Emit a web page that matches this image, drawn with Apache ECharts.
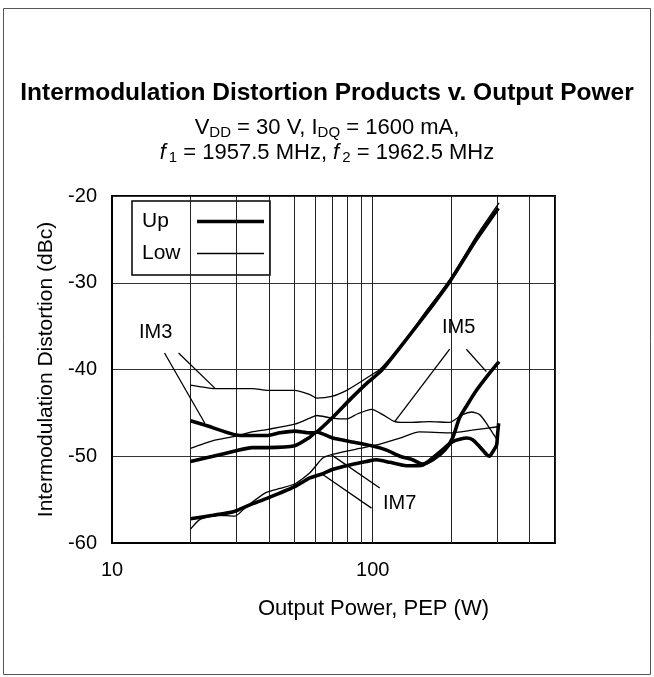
<!DOCTYPE html>
<html><head><meta charset="utf-8">
<script src="https://cdn.jsdelivr.net/npm/echarts@6/dist/echarts.min.js"></script>
<style>html,body{margin:0;padding:0;background:#fff}#c{width:654px;height:677px}</style>
</head><body><div id="c"></div>
<script>
// ---- data (x = Output Power PEP in W, y = IMD in dBc) ----
const im3Up = [[20,-45.9],[22.7,-46.4],[30.9,-47.6],[39.6,-47.6],[44.1,-47.3],[50.2,-47.1],[57.4,-47.3],[61,-47.2],[70.3,-45.5],[81.6,-43.5],[94.8,-41.6],[108.2,-40.1],[124.7,-37.8],[160,-33.6],[197,-29.9],[250,-25.0],[303,-21.4]];
const im3Low = [[20,-41.8],[24.8,-42.2],[29.6,-42.2],[34.7,-42.2],[39.3,-42.4],[50.2,-42.4],[57.4,-42.9],[61,-43.3],[69.6,-43.1],[79.5,-42.4],[89.1,-41.5],[99.1,-40.6],[106.4,-40.0],[126.9,-37.4],[160,-33.3],[197,-29.7],[250,-24.6],[305,-20.8]];
const im5Up = [[20,-50.6],[24.4,-50.0],[29.6,-49.4],[34.4,-49.0],[39.6,-49.0],[50.2,-48.8],[57.4,-47.8],[61,-47.2],[70.3,-47.9],[81.6,-48.3],[99.1,-48.8],[113,-49.3],[127,-50.0],[142,-50.4],[155,-50.9],[170,-50.4],[189,-49.3],[203,-47.8],[215,-45.6],[229,-44.2],[250,-42.4],[281,-40.4],[305,-39.1]];
const im5Low = [[20,-49.1],[24.4,-48.2],[29.6,-47.7],[34.4,-47.2],[39.6,-46.9],[50.2,-46.3],[57.4,-45.6],[61,-45.3],[69.6,-45.6],[79.5,-45.7],[87.6,-45.1],[99.1,-44.6],[109.2,-45.2],[121.4,-46.0],[138.7,-46.1],[165,-46.0],[197,-46.1],[221,-45.2],[239.5,-44.9],[257,-45.2],[273,-46.2],[288,-47.3],[300,-48.1]];
const im7Up = [[20,-57.2],[24.4,-56.8],[29.2,-56.4],[33.8,-55.6],[39.7,-54.8],[50.2,-53.5],[57.4,-52.5],[64.5,-52.0],[70.4,-51.5],[81.6,-51.0],[94.6,-50.6],[103.3,-50.4],[116.2,-50.7],[134.7,-51.1],[155.8,-51.0],[169.8,-50.2],[189.2,-49.0],[203,-48.3],[229,-47.9],[241.6,-48.1],[257,-48.9],[273.4,-49.8],[280.6,-50.0],[288.4,-49.5],[298.6,-48.7],[301,-47.5],[304,-46.2]];
const im7Low = [[20,-58.4],[21.7,-57.3],[25.2,-56.8],[29.6,-56.9],[32.8,-55.8],[38.9,-54.2],[44.1,-53.7],[50.2,-53.2],[57.4,-51.9],[64.3,-50.2],[69.6,-49.8],[89.1,-49.1],[103.6,-48.7],[127,-47.9],[151,-47.2],[197,-47.3],[240,-47.0],[301,-46.6]];

const xMin = 10, xMax = 500;
const yMin = -60, yMax = -20, yStep = 10;
const xLabelTicks = [10, 100];
const minorGridX = [20,30,40,50,60,70,80,90,200,300,400];

// callout labels and leader lines (data coordinates)
const calloutLabels = [
  {text:'IM3', at:[14.7,-35.7]},
  {text:'IM5', at:[213.6,-35.15]},
  {text:'IM7', at:[126.9,-55.5]}
];
const calloutLines = [
  [[15.9,-38.1],[22.7,-46.2]],
  [[18.0,-38.1],[24.8,-42.15]],
  [[197.3,-37.66],[121.4,-46.0]],
  [[228.6,-37.66],[272.7,-40.24]],
  [[69.5,-49.84],[106.4,-53.67]],
  [[64.5,-52.14],[98.9,-55.98]]
];

const FONT = "'Liberation Sans', Arial, Helvetica, sans-serif";
const THICK = 3.6, THIN = 1.3;

function lineSeries(name, data, w) {
  return {
    name: name, type: 'line', data: data, symbol: 'none', smooth: 0.2,
    lineStyle: {color: '#000', width: w}, silent: true, z: 5
  };
}

const chart = echarts.init(document.getElementById('c'), null, {renderer: 'canvas'});
const option = {
  backgroundColor: '#fff',
  animation: false,
  textStyle: {fontFamily: FONT, color: '#000'},
  title: [
    {text: 'Intermodulation Distortion Products v. Output Power', left: 'center', top: 76,
     textStyle: {fontSize: 24.5, fontWeight: 'bold', color: '#000', fontFamily: FONT}},
    {text: '{n|V}{s|DD}{n| = 30 V, I}{s|DQ}{n| = 1600 mA,}\n{i|f}{s|1}{n| = 1957.5 MHz, }{i|f}{s|2}{n| = 1962.5 MHz}',
     left: 'center', top: 110,
     textStyle: {fontSize: 22, fontWeight: 'normal', color: '#000', fontFamily: FONT,
       rich: {
         n: {fontSize: 22, fontWeight: 'normal', lineHeight: 25, color: '#000', fontFamily: FONT},
         i: {fontSize: 22, fontWeight: 'normal', lineHeight: 25, fontStyle: 'italic', color: '#000', fontFamily: FONT, padding: [0, 3, 0, 0]},
         s: {fontSize: 15, fontWeight: 'normal', lineHeight: 16, verticalAlign: 'bottom', color: '#000', fontFamily: FONT}
       }}}
  ],
  legend: {
    left: 132, top: 201, orient: 'vertical', align: 'right',
    padding: [10, 6, 11, 10], itemGap: 11, itemWidth: 67, itemHeight: 20,
    backgroundColor: '#fff', borderColor: '#000', borderWidth: 1.5, borderRadius: 0,
    selectedMode: false,
    formatter: '{a|{name}}',
    textStyle: {fontSize: 21, color: '#000', fontFamily: FONT,
      rich: {a: {fontSize: 21, width: 50, align: 'left', color: '#000', fontFamily: FONT}}},
    data: [
      {name: 'Up', icon: 'path://M0,0H67V3.6H0Z', itemStyle: {color: '#000'}},
      {name: 'Low', icon: 'path://M0,0H67V1.3H0Z', itemStyle: {color: '#000'}}
    ]
  },
  grid: {left: 112, right: 99, top: 196, bottom: 134, show: true, borderColor: '#000', borderWidth: 2, backgroundColor: 'transparent'},
  xAxis: {
    type: 'log', logBase: 10, min: xMin, max: xMax,
    name: 'Output Power, PEP (W)', nameLocation: 'middle', nameGap: 55,
    nameTextStyle: {fontSize: 22, color: '#000', fontFamily: FONT, padding: [0, 0, 0, 80]},
    axisLine: {show: true, lineStyle: {color: '#000', width: 2}},
    axisTick: {show: false},
    axisLabel: {fontSize: 20, color: '#000', margin: 17, fontFamily: FONT, showMaxLabel: false,
      formatter: function (v) { const r = Math.round(v); return xLabelTicks.indexOf(r) >= 0 ? String(r) : ''; }},
    splitLine: {show: true, lineStyle: {color: '#222', width: 1}}
  },
  yAxis: {
    type: 'value', min: yMin, max: yMax, interval: yStep,
    name: 'Intermodulation Distortion (dBc)', nameLocation: 'middle', nameGap: 53,
    nameTextStyle: {fontSize: 21, color: '#000', fontFamily: FONT},
    axisLine: {show: true, lineStyle: {color: '#000', width: 2}},
    axisTick: {show: false},
    axisLabel: {fontSize: 20, color: '#000', margin: 15, fontFamily: FONT},
    splitLine: {show: true, lineStyle: {color: '#333', width: 1}}
  },
  series: [
    {
      name: 'grid-minor', type: 'line', data: [], silent: true, z: 1,
      markLine: {
        silent: true, symbol: ['none', 'none'], label: {show: false},
        lineStyle: {color: '#222', width: 1, type: 'solid'},
        data: minorGridX.map(v => ({xAxis: v}))
      }
    },
    {
      name: 'callouts', type: 'line', data: [], silent: true, z: 6,
      markLine: {
        silent: true, symbol: ['none', 'none'], label: {show: false},
        lineStyle: {color: '#000', width: 1.3, type: 'solid'},
        data: calloutLines.map(s => [{coord: s[0]}, {coord: s[1]}])
      },
      markPoint: {
        silent: true, symbol: 'circle', symbolSize: 1, itemStyle: {color: 'rgba(0,0,0,0)'},
        label: {show: true, position: 'inside', fontSize: 20, color: '#000', fontFamily: FONT,
          formatter: p => p.name},
        data: calloutLabels.map(c => ({name: c.text, coord: c.at}))
      }
    },
    lineSeries('IM3 Up', im3Up, THICK),
    lineSeries('IM3 Low', im3Low, THIN),
    lineSeries('IM5 Up', im5Up, THICK),
    lineSeries('IM5 Low', im5Low, THIN),
    lineSeries('IM7 Up', im7Up, THICK),
    lineSeries('IM7 Low', im7Low, THIN),
    {name: 'Up', type: 'line', data: [], symbol: 'none', lineStyle: {color: '#000', width: THICK}, itemStyle: {color: '#000'}},
    {name: 'Low', type: 'line', data: [], symbol: 'none', lineStyle: {color: '#000', width: THIN}, itemStyle: {color: '#000'}}
  ],
  graphic: [
    {type: 'rect', silent: true, z: -10, shape: {x: 3.5, y: 8.5, width: 647, height: 666},
     style: {fill: 'none', stroke: '#555', lineWidth: 1}}
  ]
};
chart.setOption(option);
</script>
</body></html>
